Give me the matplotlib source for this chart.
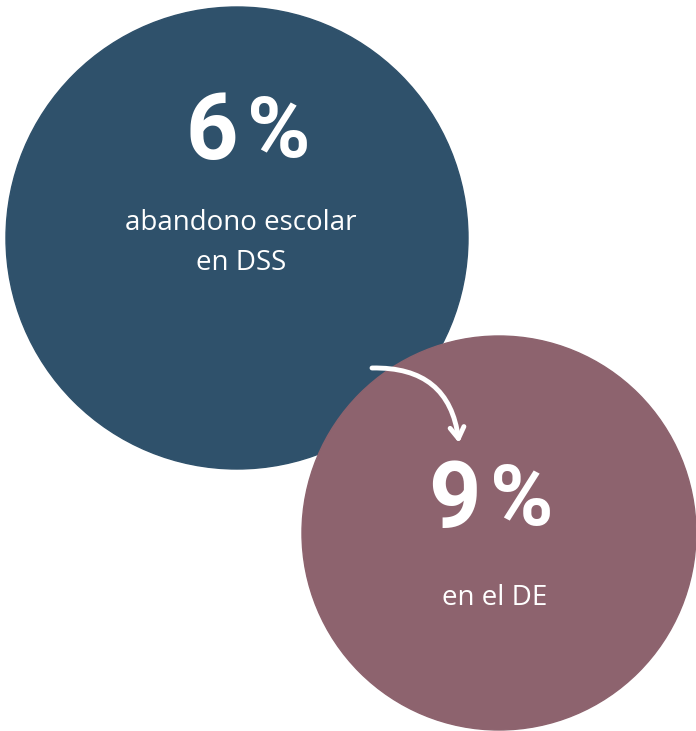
import matplotlib.pyplot as plt
from matplotlib.patches import Circle, FancyArrowPatch

# values / labels
values = ['6', '9']
labels = ['abandono escolar\nen DSS', 'en el DE']
colors = ['#2f516b', '#8d636e']
centers = [(237, 238), (499, 533)]
radii = [231, 197]

fig = plt.figure(figsize=(6.96, 7.31), dpi=100)
ax = fig.add_axes([0, 0, 1, 1])
ax.set_xlim(0, 696)
ax.set_ylim(731, 0)
ax.set_aspect('equal')
ax.axis('off')

for c, r, col in zip(centers, radii, colors):
    ax.add_patch(Circle(c, r, color=col, zorder=1))

numfont = ['Roboto', 'DejaVu Sans']
fam = ['Open Sans', 'DejaVu Sans']

# big numbers: digit and % set a little apart
for v, (x, y) in zip(values, [(238, 134), (481, 501)]):
    ax.text(x, y, v, color='white', fontsize=66, fontweight='bold',
            ha='right', va='center', family=numfont)
    ax.text(x + 9, y, '%', color='white', fontsize=62, fontweight='bold',
            ha='left', va='center', family=numfont)

ax.text(241, 243, labels[0], color='white', fontsize=20, ha='center', va='center',
        family=fam, linespacing=1.6)
ax.text(495, 598, labels[1], color='white', fontsize=20, ha='center', va='center',
        family=fam)

arr = FancyArrowPatch((372, 368), (459, 443), connectionstyle='arc3,rad=-0.45',
                      arrowstyle='->,head_length=8,head_width=5', color='white',
                      lw=3.5, zorder=3, shrinkA=0, shrinkB=0, capstyle='round',
                      joinstyle='round')
ax.add_patch(arr)

fig.savefig('out.png', dpi=100)
